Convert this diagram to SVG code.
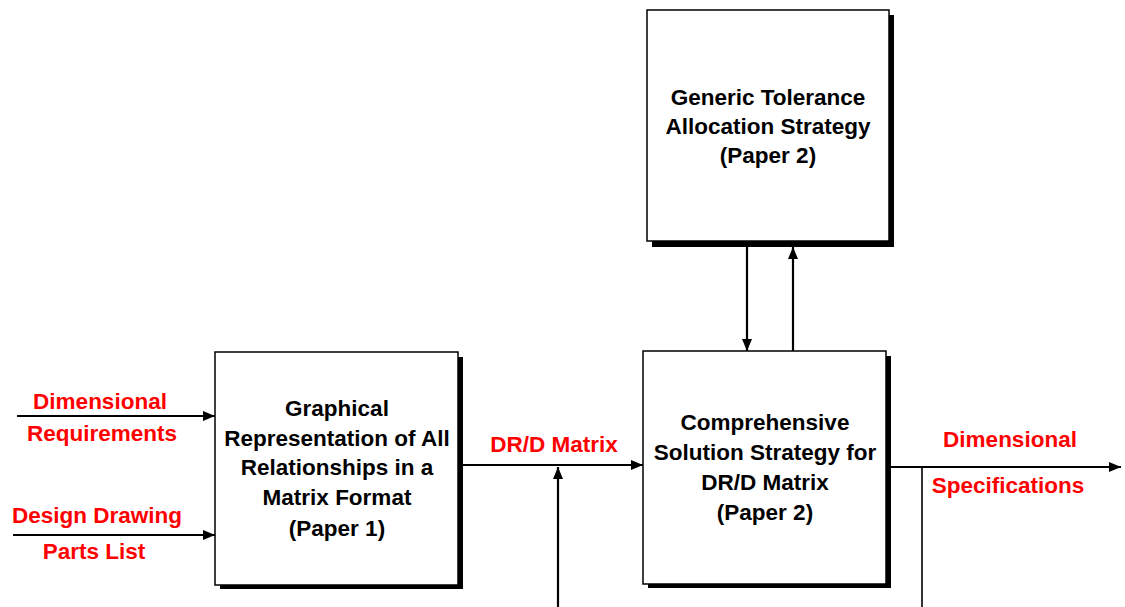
<svg xmlns="http://www.w3.org/2000/svg" width="1125" height="607" viewBox="0 0 1125 607">
<style>
.box{fill:#fff;stroke:#000;stroke-width:1.5}
.shadow{fill:#000}
.t{font-family:"Liberation Sans",Arial,sans-serif;font-weight:bold;font-size:22.5px;text-anchor:middle;fill:#000}
.r{fill:#ff0000}
.c{stroke:#000;stroke-width:2.2;fill:none}
.thin{stroke:#000;stroke-width:1.6;fill:none}
</style>
<defs>
<marker id="ah" viewBox="0 0 12 10" refX="12" refY="5" markerWidth="12" markerHeight="10" markerUnits="userSpaceOnUse" orient="auto">
<path d="M0,0 L12,5 L0,10 z" fill="#000"/>
</marker>
</defs>
<rect width="1125" height="607" fill="#fff"/>
<g id="connectors">
<line class="c" x1="17" y1="416" x2="215" y2="416" marker-end="url(#ah)"/>
<line class="c" x1="13" y1="535" x2="215" y2="535" marker-end="url(#ah)"/>
<line class="c" x1="458" y1="465" x2="643" y2="465" marker-end="url(#ah)"/>
<line class="c" x1="558" y1="607" x2="558" y2="467" marker-end="url(#ah)"/>
<line class="c" x1="747" y1="247" x2="747" y2="351" marker-end="url(#ah)"/>
<line class="c" x1="793" y1="351" x2="793" y2="247" marker-end="url(#ah)"/>
<line class="c" x1="891" y1="467" x2="1121" y2="467" marker-end="url(#ah)"/>
<line class="thin" x1="922" y1="467" x2="922" y2="607"/>
</g>
<g id="node-generic">
<rect class="shadow" x="652" y="15" width="242" height="232"/>
<rect class="box" x="647" y="10" width="242" height="231"/>
<text class="t" x="768" y="105">Generic Tolerance</text>
<text class="t" x="768" y="134">Allocation Strategy</text>
<text class="t" x="768" y="163">(Paper 2)</text>
</g>
<g id="node-graphical">
<rect class="shadow" x="220" y="357" width="243" height="232"/>
<rect class="box" x="215" y="352" width="243" height="233"/>
<text class="t" x="337" y="416">Graphical</text>
<text class="t" x="337" y="446">Representation of All</text>
<text class="t" x="337" y="475">Relationships in a</text>
<text class="t" x="337" y="505">Matrix Format</text>
<text class="t" x="337" y="536">(Paper 1)</text>
</g>
<g id="node-comprehensive">
<rect class="shadow" x="648" y="356" width="243" height="232"/>
<rect class="box" x="643" y="351" width="243" height="233"/>
<text class="t" x="765" y="430">Comprehensive</text>
<text class="t" x="765" y="460">Solution Strategy for</text>
<text class="t" x="765" y="490">DR/D Matrix</text>
<text class="t" x="765" y="520">(Paper 2)</text>
</g>
<g id="labels">
<text class="t r" x="100" y="409">Dimensional</text>
<text class="t r" x="102" y="441">Requirements</text>
<text class="t r" x="97" y="523">Design Drawing</text>
<text class="t r" x="94" y="559">Parts List</text>
<text class="t r" x="554" y="452">DR/D Matrix</text>
<text class="t r" x="1010" y="447">Dimensional</text>
<text class="t r" x="1008" y="493">Specifications</text>
</g>
</svg>
